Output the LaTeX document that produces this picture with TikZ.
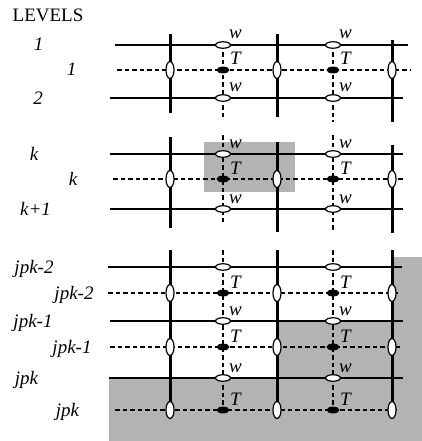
\documentclass[tikz,border=0pt]{standalone}
\usepackage{fontspec}
\setmainfont{Liberation Serif}
\usetikzlibrary{shapes.geometric}
\definecolor{areagray}{RGB}{179,179,179}
\begin{document}
\begin{tikzpicture}[x=1pt,y=-1pt,
  hline/.style={line width=2pt},
  vline/.style={line width=3pt},
  dline/.style={line width=1.5pt, dash pattern=on 4.5pt off 3pt},
  wnode/.style={ellipse, draw, fill=white, line width=1.2pt, minimum width=15pt, minimum height=6.5pt, inner sep=0pt},
  tnode/.style={ellipse, draw, fill=black, line width=0.8pt, minimum width=12pt, minimum height=6pt, inner sep=0pt},
  vnode/.style={ellipse, draw, fill=white, line width=1.2pt, minimum width=8pt, minimum height=17pt, inner sep=0pt},
  lab/.style={font=\fontsize{19}{20}\selectfont\itshape, inner sep=0pt, anchor=base},
  head/.style={font=\fontsize{19}{20}\selectfont, inner sep=0pt, anchor=base},
  region/.style={fill=areagray, draw=none},
]
\useasboundingbox (0,0) rectangle (422,441);

% shaded regions
\path[region] (204,142) rectangle (295,192);
\path[region] (109,378) -- (277,378) -- (277,321) -- (392,321) -- (392,257)
  -- (422,257) -- (422,441) -- (109,441) -- cycle;

% ---- top block
\draw[hline] (115,45) -- (408,45);
\draw[dline] (117,70) -- (410,70);
\draw[hline] (110,98) -- (403,98);
\draw[vline] (170,34) -- (170,113);
\draw[vline] (277,34) -- (277,117);
\draw[vline] (392,40) -- (392,122);
\draw[dline] (223,45) -- (223,117);
\draw[dline] (333,45) -- (333,122);

% ---- middle block
\draw[hline] (110,154) -- (403,154);
\draw[dline] (113,179) -- (405,179);
\draw[hline] (110,209) -- (403,209);
\draw[vline] (170,137) -- (170,228);
\draw[vline] (277,142) -- (277,232);
\draw[vline] (392,145) -- (392,233);
\draw[dline] (223,135) -- (223,222);
\draw[dline] (333,135) -- (333,230);

% ---- bottom block
\draw[hline] (108,267) -- (402,267);
\draw[dline] (108,293) -- (398,293);
\draw[hline] (110,321) -- (403,321);
\draw[dline] (110,347) -- (402,347);
\draw[hline] (109,378) -- (403,378);
\draw[dline] (115,410) -- (400,410);
\foreach \x in {170,277,392} \draw[vline] (\x,250) -- (\x,410);
\foreach \x in {223,333} \draw[dline] (\x,250) -- (\x,410);

% ---- ellipses with w labels
\foreach \y/\n in {45/a,98/b,154/c,209/d,321/e,378/f}{
  \node[wnode] (wl\n) at (223,\y) {};
  \node[wnode] (wr\n) at (333,\y) {};
  \node[lab] at ([xshift=12.5pt,yshift=6pt]wl\n.center) {w};
  \node[lab] at ([xshift=12.5pt,yshift=6pt]wr\n.center) {w};
}
% w ellipses without labels (level jpk-2)
\node[wnode] (wlg) at (223,267) {};
\node[wnode] (wrg) at (333,267) {};

% ---- T ellipses and vertical ellipses on dashed lines
\foreach \y/\n in {70/a,179/b,293/c,347/d,410/e}{
  \node[tnode] (tl\n) at (223,\y) {};
  \node[tnode] (tr\n) at (333,\y) {};
  \node[lab] at ([xshift=12.5pt,yshift=5pt]tl\n.center) {T};
  \node[lab] at ([xshift=12.5pt,yshift=5pt]tr\n.center) {T};
  \node[vnode] (v1\n) at (170,\y) {};
  \node[vnode] (v2\n) at (277,\y) {};
  \node[vnode] (v3\n) at (392,\y) {};
}

% ---- level labels
\node[head] (levels) at (48,22) {LEVELS};
\node[lab] (l1a) at (38.5,51) {1};
\node[lab] (l1b) at (71.5,76) {1};
\node[lab] (l2) at (38,104) {2};
\node[lab] (lka) at (34,160) {k};
\node[lab] (lkb) at (73,185) {k};
\node[lab] (lk1) at (35.5,215) {k+1};
\node[lab] (lj2a) at (34,273) {jpk-2};
\node[lab] (lj2b) at (74,299) {jpk-2};
\node[lab] (lj1a) at (33,327) {jpk-1};
\node[lab] (lj1b) at (72,353) {jpk-1};
\node[lab] (lja) at (26.5,384) {jpk};
\node[lab] (ljb) at (67.5,416) {jpk};
\end{tikzpicture}
\end{document}
